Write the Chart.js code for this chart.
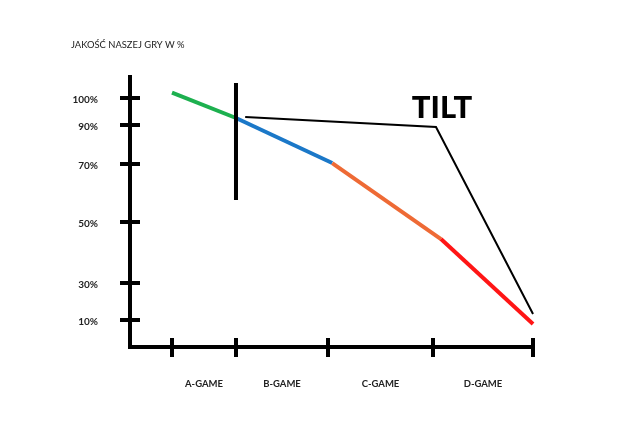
<!DOCTYPE html>
<html>
<head>
<meta charset="utf-8">
<script src="https://cdn.jsdelivr.net/npm/chart.js@4/dist/chart.umd.min.js"></script>
<style>
  html, body { margin: 0; padding: 0; background: #ffffff; }
  #wrap { width: 630px; height: 426px; position: relative; }
</style>
</head>
<body>
<div id="wrap"><canvas id="c"></canvas></div>
<script>
// ---- data ----
const axisTitle = 'JAKOŚĆ NASZEJ GRY W %';
const annotationText = 'TILT';
const categories = ['A-GAME', 'B-GAME', 'C-GAME', 'D-GAME'];
const stageBoundaries = [0, 1, 2, 3, 4];
const yTickValues = [100, 90, 70, 50, 30, 10];
const yTickLabels = ['100%', '90%', '70%', '50%', '30%', '10%'];
// quality line vertices (x in game-stage units, y in %)
const qualityStage = [0, 1, 2.04, 3.08, 4];
const qualityPct = [102, 92.6, 70.5, 44.4, 8.5];
// vertical marker at the A/B boundary
const markerStage = [1, 1];
const markerPct = [105.6, 57.6];
// TILT pointer line
const tiltStage = [1.1, 3.03, 4];
const tiltPct = [93, 89, 13.2];

// ---- styles ----
const segmentColors = ['#1db04f', '#1b78c8', '#ee6a35', '#ff1515'];

// the hand-drawn axes are not evenly spaced: value -> fraction of axis length
const anchorTable = {
  x: [[0, 0.1037], [1, 0.2617], [2, 0.4889], [3, 0.7481], [4, 0.9951]],
  y: [[0, 0], [10, 0.1], [30, 0.2370], [50, 0.4630], [70, 0.6778], [90, 0.8222], [100, 0.9222]]
};
function interp(a, v, from, to) {
  let i = 0;
  while (i < a.length - 2 && v > a[i + 1][from]) i++;
  const p = a[i], q = a[i + 1];
  return p[to] + (v - p[from]) * (q[to] - p[to]) / (q[from] - p[from]);
}
const BaseLinear = Chart.LinearScale || Chart.registry.getScale('linear');
class PiecewiseScale extends BaseLinear {
  getPixelForValue(value) {
    if (value === null || value === undefined || isNaN(value)) return NaN;
    return this.getPixelForDecimal(interp(anchorTable[this.id], value, 0, 1));
  }
  getValueForPixel(pixel) {
    return interp(anchorTable[this.id], this.getDecimalForPixel(pixel), 1, 0);
  }
}
PiecewiseScale.id = 'piecewise';
PiecewiseScale.defaults = BaseLinear.defaults;
Chart.register(PiecewiseScale);

const decorPlugin = {
  id: 'decor',
  afterDatasetsDraw(chart) {
    const ctx = chart.ctx;
    const xs = chart.scales.x, ys = chart.scales.y;
    const area = chart.chartArea;
    ctx.save();
    ctx.strokeStyle = '#000';
    ctx.lineWidth = 4;
    ctx.lineCap = 'butt';
    yTickValues.forEach(v => {
      const py = ys.getPixelForValue(v);
      ctx.beginPath();
      ctx.moveTo(area.left - 10, py);
      ctx.lineTo(area.left + 10, py);
      ctx.stroke();
    });
    stageBoundaries.forEach(v => {
      const px = xs.getPixelForValue(v);
      ctx.beginPath();
      ctx.moveTo(px, area.bottom - 9);
      ctx.lineTo(px, area.bottom + 10);
      ctx.stroke();
    });
    // title
    ctx.fillStyle = '#222';
    ctx.font = '9.4px Lato, "Open Sans", sans-serif';
    ctx.textAlign = 'left';
    ctx.textBaseline = 'middle';
    ctx.fillText(axisTitle, area.left - 59, area.top - 32);
    // TILT label above the pointer's corner
    const cx = xs.getPixelForValue(tiltStage[1]);
    const cy = ys.getPixelForValue(tiltPct[1]);
    ctx.fillStyle = '#000';
    ctx.font = '900 31px Lato, "Open Sans", sans-serif';
    ctx.textAlign = 'center';
    ctx.textBaseline = 'alphabetic';
    ctx.fillText(annotationText, cx + 6, cy - 9);
    ctx.restore();
  }
};

const toPoints = (xs, ys) => xs.map((x, i) => ({ x: x, y: ys[i] }));

new Chart(document.getElementById('c'), {
  type: 'line',
  data: {
    datasets: [
      {
        data: toPoints(markerStage, markerPct),
        borderColor: '#000', borderWidth: 4, pointRadius: 0, order: 0, clip: false
      },
      {
        data: toPoints(tiltStage, tiltPct),
        borderColor: '#000', borderWidth: 2, pointRadius: 0, order: 1, clip: false,
        borderJoinStyle: 'miter'
      },
      {
        data: toPoints(qualityStage, qualityPct),
        borderWidth: 4, pointRadius: 0, order: 2, clip: false,
        borderColor: segmentColors[0],
        segment: { borderColor: c => segmentColors[c.p0DataIndex] }
      }
    ]
  },
  options: {
    responsive: true,
    maintainAspectRatio: false,
    animation: false,
    events: [],
    layout: { padding: { left: 0, top: 77, right: 95, bottom: 0 } },
    plugins: { legend: { display: false }, tooltip: { enabled: false }, title: { display: false } },
    elements: { line: { tension: 0, borderCapStyle: 'butt' } },
    scales: {
      x: {
        type: 'piecewise',
        position: 'bottom',
        afterFit: s => { s.height = 79; },
        afterBuildTicks: s => { s.ticks = categories.map((c, i) => ({ value: (stageBoundaries[i] + stageBoundaries[i + 1]) / 2 })); },
        grid: { drawOnChartArea: false, drawTicks: false, lineWidth: 0 },
        border: { display: true, color: '#000', width: 4 },
        ticks: {
          autoSkip: false, maxRotation: 0, padding: 31,
          color: '#222',
          font: { family: 'Lato, "Open Sans", sans-serif', size: 9.5, weight: 'bold' },
          callback: (v, i) => categories[i]
        }
      },
      y: {
        type: 'piecewise',
        position: 'left',
        afterFit: s => { s.width = 130; },
        afterBuildTicks: s => { s.ticks = yTickValues.map(v => ({ value: v })); },
        grid: { drawOnChartArea: false, drawTicks: false, lineWidth: 0 },
        border: { display: true, color: '#000', width: 4 },
        ticks: {
          autoSkip: false, padding: 32, labelOffset: 2,
          color: '#222',
          font: { family: 'Lato, "Open Sans", sans-serif', size: 10, weight: 'bold' },
          callback: (v, i) => yTickLabels[i]
        }
      }
    }
  },
  plugins: [decorPlugin]
});
</script>
</body>
</html>
